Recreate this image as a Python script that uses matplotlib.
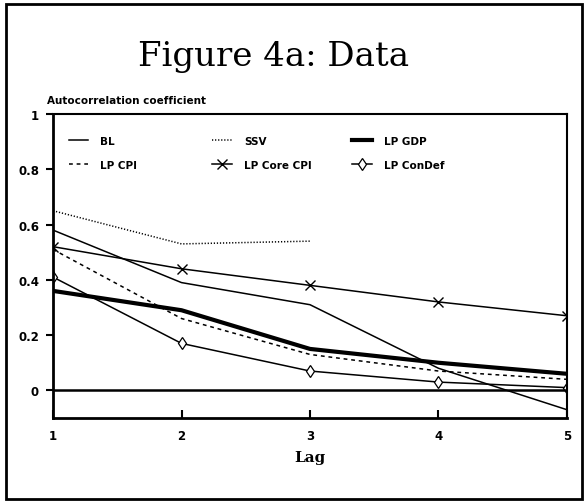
import numpy as np
import matplotlib.pyplot as plt
from matplotlib.legend import Legend
from matplotlib.patches import Rectangle

# ── Data ────────────────────────────────────────────────────────────────────
lags      = [1, 2, 3, 4, 5]
bl        = [0.58, 0.39, 0.31, 0.08, -0.07]
ssv_lags  = [1, 2, 3]
ssv       = [0.65, 0.53, 0.54]
lp_gdp    = [0.36, 0.29, 0.15, 0.10, 0.06]
lp_cpi    = [0.51, 0.26, 0.13, 0.07, 0.04]
lp_core   = [0.52, 0.44, 0.38, 0.32, 0.27]
lp_condef = [0.41, 0.17, 0.07, 0.03, 0.01]

yticks      = [0, 0.2, 0.4, 0.6, 0.8, 1]
ytick_lbls  = ['0', '0.2', '0.4', '0.6', '0.8', '1']

fig = plt.figure(figsize=(5.87, 5.02), dpi=100)
ax = fig.add_axes([0.0903, 0.1653, 0.8756, 0.6056])

# outer frame around the whole figure
fig.patches.append(Rectangle((0.010, 0.004), 0.982, 0.986, transform=fig.transFigure,
                             fill=False, lw=2.0, ec='black'))

h_bl, = ax.plot(lags, bl, color='black', lw=1.1, label='BL')
h_cpi, = ax.plot(lags, lp_cpi, color='black', lw=1.1, ls=(0, (2.5, 2.5)), label='LP CPI')
h_ssv, = ax.plot(ssv_lags, ssv, color='black', lw=1.1, ls=(0, (0.8, 1.2)), label='SSV')
h_core, = ax.plot(lags, lp_core, color='black', lw=1.1, marker='x', ms=6.5, mew=1.0,
                  label='LP Core CPI')
h_gdp, = ax.plot(lags, lp_gdp, color='black', lw=3.0, label='LP GDP')
h_con, = ax.plot(lags, lp_condef, color='black', lw=1.1, marker='d', ms=6, mew=0.9,
                 mfc='white', label='LP ConDef')
ax.axhline(0, color='black', lw=1.8)

ax.set_xlim(1, 5)
ax.set_ylim(-0.1, 1.0)
ax.set_xticks(lags)
ax.set_yticks(yticks)
ax.set_yticklabels(ytick_lbls)
for lbl in ax.get_xticklabels() + ax.get_yticklabels():
    lbl.set_fontweight('bold')
    lbl.set_fontsize(8.5)
ax.tick_params(axis='x', direction='in', length=6, width=1.5, pad=8)
ax.tick_params(axis='y', direction='out', length=5, width=1.5, pad=5)
ax.spines['left'].set_linewidth(2.0)
ax.spines['bottom'].set_linewidth(2.0)
ax.spines['top'].set_linewidth(1.5)
ax.spines['right'].set_linewidth(1.5)

ax.set_xlabel('Lag', family='DejaVu Serif', fontweight='bold', fontsize=11, labelpad=6)
fig.text(0.080, 0.798, 'Autocorrelation coefficient', fontsize=7.5,
         fontweight='bold', ha='left', va='center')
fig.text(0.466, 0.886, 'Figure 4a: Data', family='DejaVu Serif', fontsize=24.5,
         ha='center', va='center')

# three one-column legends, so the columns sit where the reference has them
legend_cols = [([h_bl, h_cpi], 0.012), ([h_ssv, h_core], 0.292), ([h_gdp, h_con], 0.563)]
for handles, x0 in legend_cols:
    leg = Legend(ax, handles, [h.get_label() for h in handles], frameon=False,
                 loc='upper left', bbox_to_anchor=(x0, 0.96),
                 prop={'weight': 'bold', 'size': 7.5}, handlelength=1.9,
                 labelspacing=1.35, handletextpad=1.15)
    ax.add_artist(leg)

fig.savefig('out.png', dpi=100)
